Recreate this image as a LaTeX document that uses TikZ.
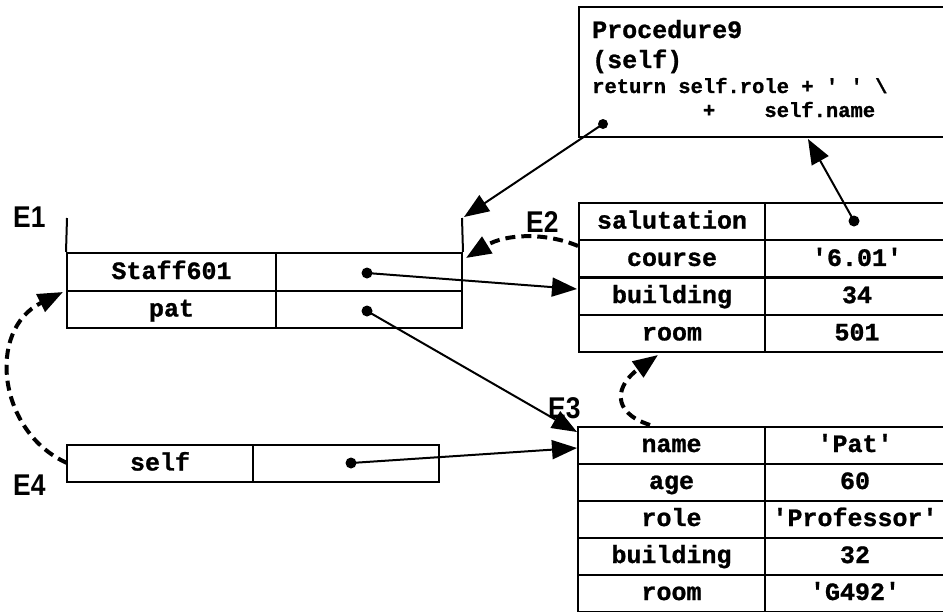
\documentclass[tikz,border=0pt]{standalone}
\usepackage{fontspec}
\setmonofont{Liberation Mono}[BoldFeatures={FakeBold=1}]
\newfontfamily\labfont{Liberation Sans}[FakeStretch=0.88]
\usetikzlibrary{arrows.meta}
\begin{document}
\begin{tikzpicture}[x=1pt,y=-1pt,
  box/.style={draw, line width=2pt, inner sep=0pt, text height=14pt, text depth=0pt,
    font=\fontsize{25}{30}\selectfont\ttfamily\bfseries},
  dotn/.style={circle, fill, inner sep=0pt, minimum size=11pt},
  arr/.style={line width=2pt, -{Triangle[length=25pt,width=19pt]}},
  darr/.style={line width=4pt, dash pattern=on 10pt off 6pt, -{Triangle[length=25pt,width=19pt]}},
  elab/.style={anchor=base west, inner sep=0pt, font=\fontsize{30}{33}\selectfont\labfont\bfseries},
  codebig/.style={anchor=base west, inner sep=0pt, font=\fontsize{25}{30}\selectfont\ttfamily\bfseries},
  codesmall/.style={anchor=base west, inner sep=0pt, font=\fontsize{20.5}{24}\selectfont\ttfamily\bfseries},
]
\clip (0,0) rectangle (943,611);
\fill[white] (0,0) rectangle (943,611);

% Procedure box
\node[draw, line width=2pt, minimum width=371pt, minimum height=130pt, inner sep=0pt] (proc) at (764.5,72) {};
\node[codebig] (p1) at (592,38) {Procedure9};
\node[codebig] (p2) at (592,68) {(self)};
\node[codesmall] (p3) at (592,93) {return self.role + \textquotesingle{} \textquotesingle{} \textbackslash};
\node[codesmall] (p4) at (592,117) {~~~~~~~~~+~~~~self.name};
\node[dotn, minimum size=10pt] (pdot) at (603,124) {};

% E1 frame
\node[box, minimum width=209pt, minimum height=38pt] (s1) at (171.5,272) {Staff601};
\node[box, minimum width=186pt, minimum height=38pt] (s2) at (369,272) {};
\node[box, minimum width=209pt, minimum height=37pt] (t1) at (171.5,309.5) {pat};
\node[box, minimum width=186pt, minimum height=37pt] (t2) at (369,309.5) {};
\coordinate (e1tl) at (67,218);
\coordinate (e1tr) at (462,218);
\draw[line width=2pt] (e1tl) -- (s1.north west);
\draw[line width=2pt] (e1tr) -- (s2.north east);
\node[dotn] (d1) at (367,273) {};
\node[dotn] (d2) at (367,311) {};

% E2 frame
\node[box, minimum width=186pt, minimum height=37.25pt] (sa1) at (672,221.6) {salutation};
\node[box, minimum width=184pt, minimum height=37.25pt] (sa2) at (857,221.6) {};
\node[box, minimum width=186pt, minimum height=37.25pt] (co1) at (672,258.9) {course};
\node[box, minimum width=184pt, minimum height=37.25pt] (co2) at (857,258.9) {\textquotesingle6.01\textquotesingle};
\node[box, minimum width=186pt, minimum height=37.25pt] (bu1) at (672,296.1) {building};
\node[box, minimum width=184pt, minimum height=37.25pt] (bu2) at (857,296.1) {34};
\node[box, minimum width=186pt, minimum height=37.25pt] (ro1) at (672,333.4) {room};
\node[box, minimum width=184pt, minimum height=37.25pt] (ro2) at (857,333.4) {501};
\node[dotn] (sdot) at (854,221) {};

% E3 frame
\node[box, minimum width=187pt, minimum height=37pt] (na1) at (671.5,445) {name};
\node[box, minimum width=180pt, minimum height=37pt] (na2) at (855,445) {\textquotesingle Pat\textquotesingle};
\node[box, minimum width=187pt, minimum height=37pt] (ag1) at (671.5,482) {age};
\node[box, minimum width=180pt, minimum height=37pt] (ag2) at (855,482) {60};
\node[box, minimum width=187pt, minimum height=37pt] (rl1) at (671.5,519) {role};
\node[box, minimum width=180pt, minimum height=37pt] (rl2) at (855,519) {\textquotesingle Professor\textquotesingle};
\node[box, minimum width=187pt, minimum height=37pt] (bd1) at (671.5,556) {building};
\node[box, minimum width=180pt, minimum height=37pt] (bd2) at (855,556) {32};
\node[box, minimum width=187pt, minimum height=37pt] (rm1) at (671.5,593) {room};
\node[box, minimum width=180pt, minimum height=37pt] (rm2) at (855,593) {\textquotesingle G492\textquotesingle};

% E4 frame
\node[box, minimum width=186pt, minimum height=37pt] (se1) at (160,463.5) {self};
\node[box, minimum width=186pt, minimum height=37pt] (se2) at (346,463.5) {};
\node[dotn] (d3) at (351,463) {};

% labels
\node[elab] (E1) at (13,227) {E1};
\node[elab] (E2) at (526,232) {E2};
\node[elab] (E3) at (548,418) {E3};
\node[elab] (E4) at (13,495) {E4};

% connectors
\coordinate (pb) at (808,139);
\coordinate (e1tip) at (464,217);
\coordinate (e2bu) at (577,289);
\coordinate (e3top) at (577,432);
\coordinate (e3na) at (577,448);
\coordinate (e2from) at (578,246);
\coordinate (e1r) at (466,258);
\coordinate (e3from) at (650,425);
\coordinate (e2bot) at (658,355);
\coordinate (e4from) at (67,463);
\coordinate (e1l) at (63,292);

\draw[arr] (pdot.center) -- (e1tip);
\draw[arr] (sdot.center) -- (pb);
\draw[arr] (d1.center) -- (e2bu);
\draw[arr] (d2.center) -- (e3top);
\draw[arr] (d3.center) -- (e3na);
\draw[darr] (e2from) .. controls (545,232) and (505,234) .. (e1r);
\draw[darr] (e3from) .. controls (610,412) and (616,385) .. (e2bot);
\draw[darr] (e4from) .. controls (-2,432) and (-14,330) .. (e1l);
\end{tikzpicture}
\end{document}
